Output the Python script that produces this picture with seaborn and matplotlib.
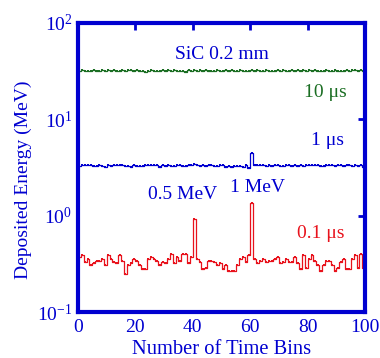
import numpy as np
import matplotlib
matplotlib.use('Agg')
import matplotlib.pyplot as plt
import seaborn as sns
from matplotlib.ticker import FixedLocator, NullLocator

BLUE = '#0000d0'
GREEN = '#1b6e23'
RED = '#e8121c'

# deposited energy per time bin (MeV), 100 bins
bins = np.arange(100) + 0.5

red_01us = [0.37, 0.39, 0.33, 0.36, 0.31, 0.32, 0.34, 0.34, 0.36, 0.31,
            0.39, 0.36, 0.33, 0.32, 0.39, 0.34, 0.25, 0.31, 0.32, 0.36,
            0.34, 0.31, 0.28, 0.28, 0.36, 0.37, 0.36, 0.34, 0.31, 0.33,
            0.32, 0.36, 0.40, 0.32, 0.37, 0.34, 0.40, 0.40, 0.32, 0.37,
            0.92, 0.36, 0.33, 0.28, 0.29, 0.34, 0.34, 0.33, 0.31, 0.32,
            0.28, 0.31, 0.27, 0.27, 0.27, 0.31, 0.36, 0.37, 0.33, 0.39,
            1.36, 0.36, 0.32, 0.34, 0.36, 0.33, 0.34, 0.34, 0.36, 0.37,
            0.32, 0.33, 0.36, 0.33, 0.33, 0.37, 0.32, 0.28, 0.39, 0.29,
            0.36, 0.39, 0.34, 0.31, 0.27, 0.31, 0.34, 0.34, 0.31, 0.27,
            0.29, 0.33, 0.36, 0.28, 0.28, 0.36, 0.39, 0.29, 0.40, 0.29]

blue_1us = [3.32, 3.35, 3.33, 3.40, 3.38, 3.32, 3.30, 3.36, 3.28, 3.24,
            3.34, 3.30, 3.33, 3.33, 3.34, 3.36, 3.26, 3.30, 3.24, 3.33,
            3.30, 3.26, 3.32, 3.34, 3.34, 3.34, 3.33, 3.36, 3.22, 3.33,
            3.30, 3.34, 3.26, 3.32, 3.38, 3.33, 3.30, 3.30, 3.36, 3.40,
            3.44, 3.33, 3.28, 3.33, 3.30, 3.34, 3.40, 3.26, 3.30, 3.33,
            3.34, 3.22, 3.30, 3.24, 3.26, 3.32, 3.30, 3.22, 3.34, 3.10,
            4.48, 3.34, 3.33, 3.33, 3.33, 3.30, 3.36, 3.32, 3.38, 3.34,
            3.30, 3.26, 3.33, 3.33, 3.30, 3.33, 3.28, 3.36, 3.30, 3.34,
            3.38, 3.34, 3.33, 3.36, 3.32, 3.30, 3.36, 3.40, 3.33, 3.30,
            3.36, 3.40, 3.26, 3.34, 3.33, 3.28, 3.33, 3.30, 3.34, 3.20]

green_10us = [31.8, 32.2, 31.6, 32.0, 31.8, 32.4, 31.7, 31.9, 32.1, 31.8,
              32.3, 31.9, 32.2, 31.7, 32.0, 32.3, 31.8, 32.1, 32.5, 31.9,
              32.8, 31.5, 32.0, 31.2, 31.8, 32.2, 31.6, 32.0, 31.8, 32.3,
              31.9, 32.1, 31.7, 32.2, 31.9, 32.0, 31.6, 31.3, 32.1, 31.8,
              32.2, 31.5, 32.4, 31.8, 32.1, 31.7, 31.9, 32.0, 32.2, 31.8,
              31.9, 32.2, 31.8, 32.1, 31.7, 31.9, 32.3, 31.6, 32.0, 31.9,
              32.2, 31.7, 32.1, 31.9, 31.8, 32.2, 31.9, 31.8, 32.0, 32.1,
              31.7, 32.2, 31.8, 32.0, 32.3, 31.8, 32.1, 31.9, 32.2, 31.7,
              32.1, 31.8, 32.2, 31.9, 32.0, 31.8, 32.1, 31.9, 31.7, 32.2,
              31.8, 32.0, 31.9, 32.2, 31.8, 32.1, 32.3, 31.9, 32.4, 32.0]

sns.set_theme(style='white')
plt.rcParams['font.family'] = ['Liberation Serif', 'DejaVu Serif']
plt.rcParams['mathtext.fontset'] = 'custom'
plt.rcParams['mathtext.rm'] = 'Liberation Serif'
plt.rcParams['mathtext.it'] = 'Liberation Serif:italic'

FS = 14

fig = plt.figure(figsize=(3.8, 3.58), dpi=100)
ax = fig.add_axes([0.205, 0.128, 0.756, 0.808])

for vals, col in [(green_10us, GREEN), (blue_1us, BLUE), (red_01us, RED)]:
    sns.lineplot(x=bins, y=vals, ax=ax, color=col, linewidth=0.9,
                 drawstyle='steps-mid', marker='s', markersize=1.8,
                 markeredgewidth=0, estimator=None)

ax.set_yscale('log')
ax.set_xlim(0, 100)
ax.set_ylim(0.1, 100)

ax.xaxis.set_major_locator(FixedLocator([0, 20, 40, 60, 80, 100]))
ax.yaxis.set_minor_locator(NullLocator())
ax.tick_params(axis='both', which='major', direction='in', length=5, width=2,
               color=BLUE, labelcolor=BLUE, labelsize=FS, top=True, right=True)
ax.tick_params(axis='y', pad=4)
ax.tick_params(axis='x', pad=5)
for s in ax.spines.values():
    s.set_color(BLUE)
    s.set_linewidth(3)

ax.set_xlabel('Number of Time Bins', color=BLUE, fontsize=14.8, labelpad=3)
ax.set_ylabel('Deposited Energy (MeV)', color=BLUE, fontsize=FS)
ax.yaxis.set_label_coords(-0.16, 0.457)

ax.text(50, 47, 'SiC 0.2 mm', color=BLUE, fontsize=FS, ha='center', va='center')
ax.text(86, 18.8, '10 \u03bcs', color=GREEN, fontsize=FS, ha='center', va='center')
ax.text(87, 6.1, '1 \u03bcs', color=BLUE, fontsize=FS, ha='center', va='center')
ax.text(36.5, 1.68, '0.5 MeV', color=BLUE, fontsize=FS, ha='center', va='center')
ax.text(62.5, 1.95, '1 MeV', color=BLUE, fontsize=FS, ha='center', va='center')
ax.text(84.5, 0.66, '0.1 \u03bcs', color=RED, fontsize=FS, ha='center', va='center')

fig.savefig('out.png', dpi=100)
